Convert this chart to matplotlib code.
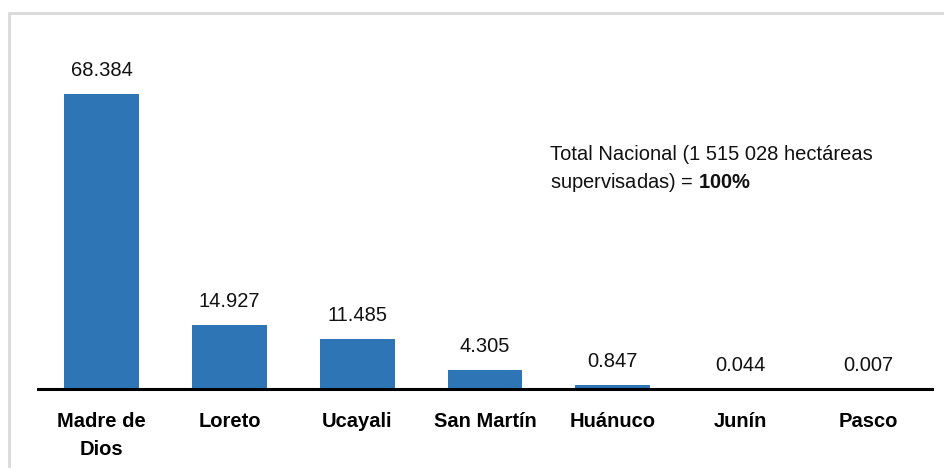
import matplotlib
matplotlib.use("Agg")
import matplotlib.pyplot as plt
from matplotlib.patches import Rectangle

regiones = ["Madre de\nDios", "Loreto", "Ucayali", "San Martín", "Huánuco", "Junín", "Pasco"]
porcentajes = [68.384, 14.927, 11.485, 4.305, 0.847, 0.044, 0.007]
etiquetas = ["68.384", "14.927", "11.485", "4.305", "0.847", "0.044", "0.007"]

plt.rcParams['font.family'] = ['Liberation Sans', 'DejaVu Sans']
plt.rcParams['mathtext.fontset'] = 'custom'
plt.rcParams['mathtext.rm'] = 'Liberation Sans'
plt.rcParams['mathtext.bf'] = 'Liberation Sans:bold'

fig = plt.figure(figsize=(9.45, 4.68), dpi=100)
W, H = 945, 468

# borde gris del recuadro
fig.patches.append(Rectangle((9 / W, -0.1), 1.1, (H - 13) / H + 0.1, transform=fig.transFigure,
                             fill=False, edgecolor="#d9d9d9", lw=2))

ax = fig.add_axes([38 / W, (H - 389) / H, (932 - 38) / W, (389 - 14) / H])
x = range(len(regiones))
ax.bar(x, porcentajes, width=0.586, color="#2E75B6", zorder=2)

for i, v in enumerate(porcentajes):
    ax.annotate(etiquetas[i], (i, v), xytext=(0, 17), textcoords="offset points",
                ha="center", va="center", fontsize=14.5, color="#111111")

ax.set_xlim(-0.5, len(regiones) - 0.5)
ax.set_ylim(0, 87)
ax.set_xticks(list(x))
ax.set_xticklabels(regiones, fontsize=14.5, fontweight="bold", linespacing=1.62)
ax.tick_params(axis="x", length=0, pad=16.5)
ax.set_yticks([])
for s in ["top", "right", "left"]:
    ax.spines[s].set_visible(False)
ax.spines["bottom"].set_linewidth(2.2)
ax.spines["bottom"].set_zorder(3)
ax.patch.set_alpha(0)

fig.text(550 / W, 1 - 155 / H, "Total Nacional (1 515 028 hectáreas", fontsize=14.5,
         ha="left", va="center", color="#111111")
fig.text(550 / W, 1 - 182 / H, "supervisadas) = $\\mathbf{100\\%}$", fontsize=14.5,
         ha="left", va="center", color="#111111")

fig.savefig("out.png", dpi=100)
